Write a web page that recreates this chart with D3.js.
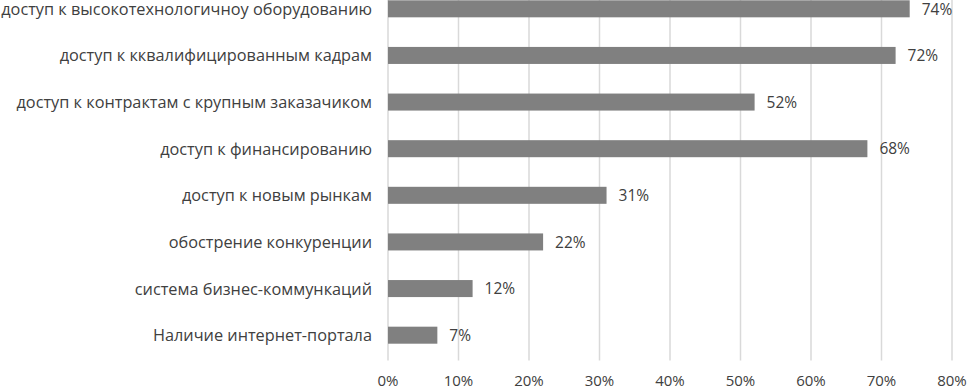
<!DOCTYPE html>
<html>
<head>
<meta charset="utf-8">
<script src="https://cdn.jsdelivr.net/npm/d3@7"></script>
<style>
  body { margin: 0; background: #fff; }
  text { font-family: "Open Sans", sans-serif; fill: #404040; }
</style>
</head>
<body>
<svg width="968" height="389"></svg>
<script>
var categories = [
  "доступ к высокотехнологичноу оборудованию",
  "доступ к кквалифицированным кадрам",
  "доступ к контрактам с крупным заказачиком",
  "доступ к финансированию",
  "доступ к новым рынкам",
  "обострение конкуренции",
  "система бизнес-коммункаций",
  "Наличие интернет-портала"
];
var values = [74, 72, 52, 68, 31, 22, 12, 7];
var ticks = [0, 10, 20, 30, 40, 50, 60, 70, 80];

var svg = d3.select("svg");
var plotLeft = 388, plotRight = 952, plotTop = -14.5, plotBottom = 358.5;

var x = d3.scaleLinear().domain([0, 80]).range([plotLeft, plotRight]);
var y = d3.scaleBand().domain(categories).range([plotTop, plotBottom])
  .paddingInner(0.635).paddingOuter(0.3175);

// vertical gridlines
svg.append("g").selectAll("line")
  .data(ticks)
  .enter().append("line")
    .attr("x1", d => x(d)).attr("x2", d => x(d))
    .attr("y1", 0).attr("y2", plotBottom + 2)
    .style("stroke", "#d9d9d9")
    .style("stroke-width", 1.5);

// tick labels
svg.append("g").selectAll("text")
  .data(ticks)
  .enter().append("text")
    .attr("x", d => x(d))
    .attr("y", 386)
    .attr("text-anchor", "middle")
    .style("font-size", "15px")
    .text(d => d + "%");

// bars
svg.append("g").selectAll("rect")
  .data(values)
  .enter().append("rect")
    .attr("x", x(0))
    .attr("y", (d, i) => y(categories[i]))
    .attr("width", d => x(d) - x(0))
    .attr("height", y.bandwidth())
    .style("fill", "#808080");

// value labels
svg.append("g").selectAll("text")
  .data(values)
  .enter().append("text")
    .attr("x", d => x(d) + 12)
    .attr("y", (d, i) => y(categories[i]) + y.bandwidth() / 2)
    .attr("dy", "0.37em")
    .style("font-size", "15.5px")
    .text(d => d + "%");

// category labels
svg.append("g").selectAll("text")
  .data(categories)
  .enter().append("text")
    .attr("x", 372)
    .attr("y", d => y(d) + y.bandwidth() / 2)
    .attr("dy", "0.37em")
    .attr("text-anchor", "end")
    .style("font-size", "16.3px")
    .text(d => d);
</script>
</body>
</html>
